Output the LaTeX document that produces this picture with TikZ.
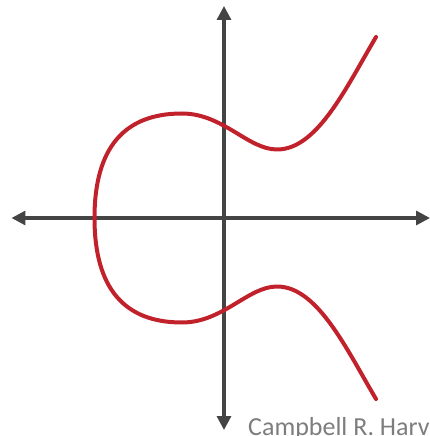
\documentclass[tikz,border=0pt]{standalone}
\usepackage{fontspec}
\setmainfont{Carlito}
\usetikzlibrary{arrows.meta}
\definecolor{axiscol}{RGB}{68,68,68}
\definecolor{curvecol}{RGB}{193,33,43}
\definecolor{textcol}{RGB}{125,125,125}
\tikzset{
  axisline/.style={draw=axiscol, line width=3.2pt, {Triangle[length=14pt,width=14pt]}-{Triangle[length=14pt,width=14pt]}},
  curveline/.style={draw=curvecol, line width=4pt, line cap=round, line join=round},
  credit/.style={text=textcol, inner sep=0pt, anchor=base west, font=\fontsize{26}{26}\selectfont}
}
\begin{document}
\begin{tikzpicture}[x=1pt,y=1pt]
\useasboundingbox (-224,218) rectangle (206,-218);
\coordinate (xl) at (-212.5,0);
\coordinate (xr) at (206,0);
\coordinate (yt) at (0,212);
\coordinate (yb) at (0,-212);
\draw[axisline] (xl) -- (xr);
\draw[axisline] (yb) -- (yt);
\coordinate (endlow) at (152,-181);
\coordinate (maxlow) at (53,-68.5);
\coordinate (minlow) at (-42,-104.5);
\coordinate (root) at (-129.5,0);
\coordinate (maxup) at (-42,104.5);
\coordinate (minup) at (53,68.5);
\coordinate (endup) at (152,181);
\draw[curveline] (endlow) .. controls (121.6,-129.3) and (93,-68.5) .. (maxlow)
  .. controls (24,-68.5) and (-1,-104.5) .. (minlow)
  .. controls (-100,-104.5) and (-129.5,-70) .. (root)
  .. controls (-129.5,70) and (-100,104.5) .. (maxup)
  .. controls (-1,104.5) and (24,68.5) .. (minup)
  .. controls (93,68.5) and (121.6,129.3) .. (endup);
\node[credit] (cr) at (24,-217.5) {Campbell R. Harv};
\end{tikzpicture}
\end{document}
